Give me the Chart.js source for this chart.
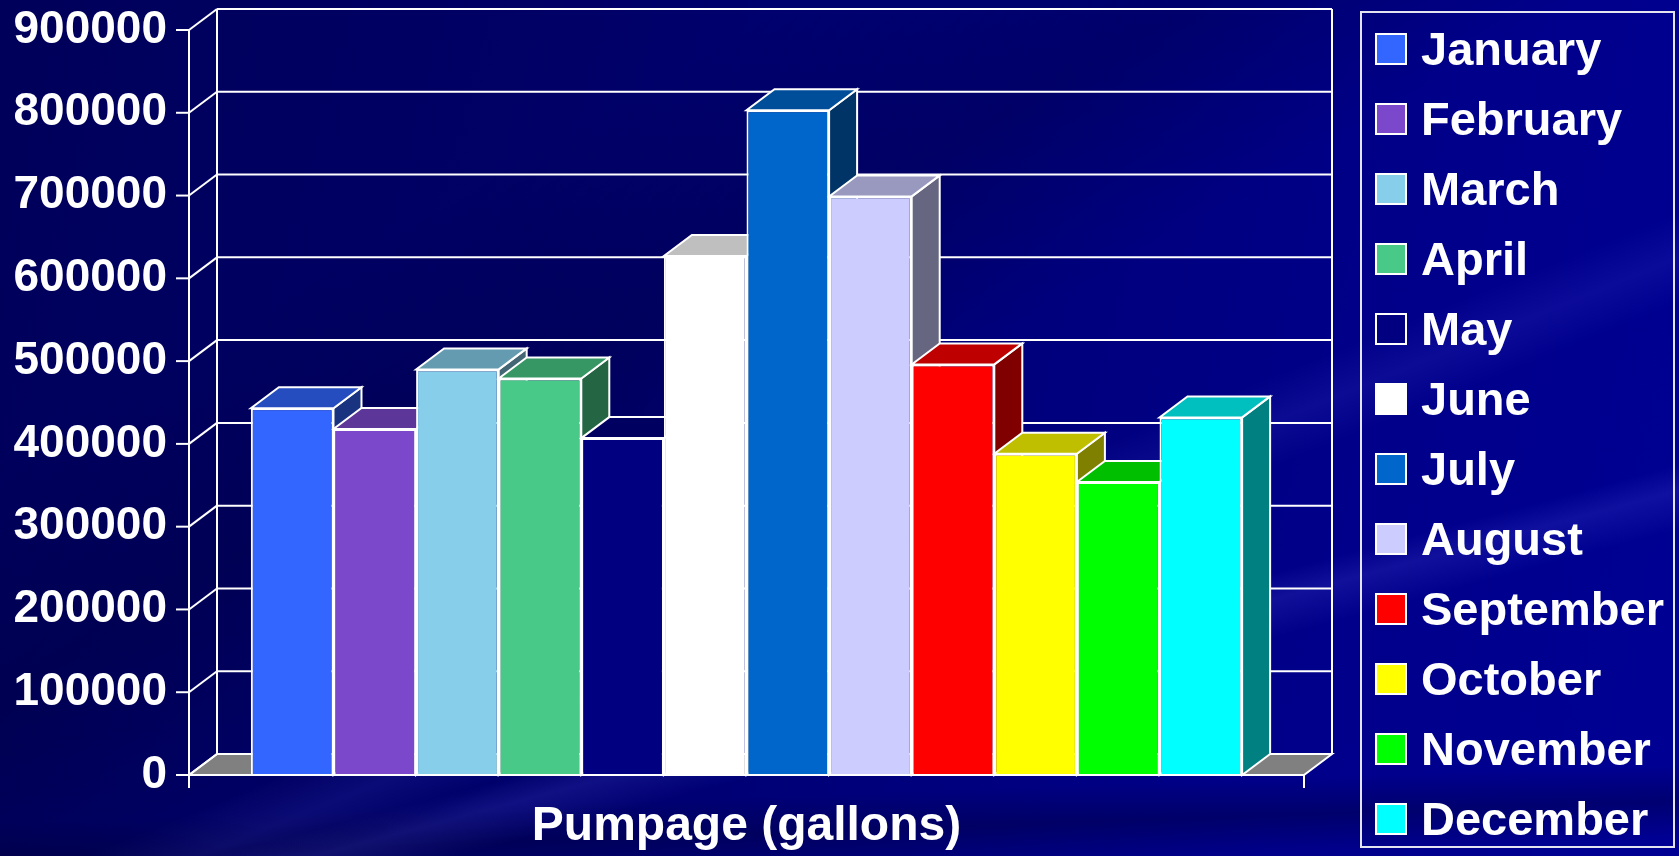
<!DOCTYPE html>
<html>
<head>
<meta charset="utf-8">
<script src="https://cdn.jsdelivr.net/npm/chart.js@4"></script>
<style>
  html, body { margin: 0; padding: 0; }
  body {
    width: 1679px; height: 856px; overflow: hidden; position: relative;
    font-family: "Liberation Sans", Arial, sans-serif;
    background:
      linear-gradient(158deg, transparent 0 58%, rgba(70,70,210,.16) 61%, transparent 64%),
      linear-gradient(165deg, transparent 0 70%, rgba(90,90,230,.18) 72%, transparent 75%),
      linear-gradient(150deg, transparent 0 25%, rgba(0,0,40,.22) 38%, transparent 50%),
      linear-gradient(178deg, transparent 0 90%, rgba(0,0,50,.35) 94%, transparent 98%),
      linear-gradient(105deg, #00005a 0%, #000066 30%, #00007a 55%, #00008a 78%, #000094 100%);
  }
  #chart { position: absolute; left: 0; top: 0; }
  #legend {
    position: absolute; left: 1360px; top: 11px;
    width: 311px; height: 833px; border: 2px solid #e4e4f0;
  }
  .item { position: absolute; left: 13px; height: 32px; display: flex; align-items: center; }
  .sw { width: 28px; height: 28px; border: 2px solid #fff; }
  .lbl { margin-left: 14px; color: #fff; font-weight: bold; font-size: 47px; line-height: 32px; white-space: nowrap; }
</style>
</head>
<body>
<canvas id="chart" width="1679" height="856"></canvas>
<div id="legend"></div>
<script>
// data
var MONTHS = ['January', 'February', 'March', 'April', 'May', 'June',
              'July', 'August', 'September', 'October', 'November', 'December'];
var PUMPAGE = [443000, 418000, 490000, 479000, 407000, 627000,
               803000, 699000, 496000, 388000, 354000, 432000];
var Y_MAX = 900000;
var Y_STEP = 100000;
var X_TITLE = 'Pumpage (gallons)';

// front face colours; top and side faces are darker shades of these
var COLORS = ['#3366ff', '#7b48cc', '#87ceeb', '#48c987', '#000080', '#ffffff',
              '#0066cc', '#ccccff', '#ff0000', '#ffff00', '#00ff00', '#00ffff'];

var DX = 28, DY = 21; // depth of the fake 3d
var FONT = '"Liberation Sans", Arial, sans-serif';

function shade(hex, f) {
  var n = parseInt(hex.slice(1), 16);
  var r = Math.round(((n >> 16) & 255) * f),
      g = Math.round(((n >> 8) & 255) * f),
      b = Math.round((n & 255) * f);
  return 'rgb(' + r + ',' + g + ',' + b + ')';
}

function poly(c, pts, fill) {
  c.beginPath();
  c.moveTo(pts[0][0], pts[0][1]);
  for (var i = 1; i < pts.length; i++) c.lineTo(pts[i][0], pts[i][1]);
  c.closePath();
  if (fill) { c.fillStyle = fill; c.fill(); }
  c.stroke();
}

function line(c, x1, y1, x2, y2) {
  c.beginPath(); c.moveTo(x1, y1); c.lineTo(x2, y2); c.stroke();
}

// walls, floor, and the top/side faces of each bar (fronts are the real bars)
var box3d = {
  id: 'box3d',
  beforeDatasetsDraw: function (chart) {
    var c = chart.ctx, a = chart.chartArea, ys = chart.scales.y;
    var L = a.left, R = a.right, T = a.top, B = a.bottom;
    c.save();
    c.lineWidth = 2; c.strokeStyle = '#fff'; c.lineJoin = 'miter';

    poly(c, [[L, B], [R, B], [R + DX, B - DY], [L + DX, B - DY]], '#808080');

    ys.ticks.forEach(function (t) {
      var py = ys.getPixelForValue(t.value);
      line(c, L, py, L + DX, py - DY);
      line(c, L + DX, py - DY, R + DX, py - DY);
    });
    line(c, L + DX, T - DY, L + DX, B - DY);
    line(c, R + DX, T - DY, R + DX, B - DY);

    chart.data.datasets.forEach(function (ds, i) {
      var bar = chart.getDatasetMeta(i).data[0];
      var p = bar.getProps(['x', 'y', 'base', 'width'], true);
      var x1 = p.x - p.width / 2, x2 = p.x + p.width / 2;
      poly(c, [[x2, p.y], [x2 + DX, p.y - DY], [x2 + DX, p.base - DY], [x2, p.base]], shade(COLORS[i], 0.5));
      poly(c, [[x1, p.y], [x2, p.y], [x2 + DX, p.y - DY], [x1 + DX, p.y - DY]], shade(COLORS[i], 0.75));
    });
    c.restore();
  },
  afterDatasetsDraw: function (chart) {
    var c = chart.ctx, a = chart.chartArea, ys = chart.scales.y;
    var L = a.left, R = a.right, T = a.top, B = a.bottom;
    c.save();
    c.lineWidth = 2; c.strokeStyle = '#fff';
    line(c, L, T, L, B + 13);
    line(c, L, B, R, B);
    line(c, R, B, R, B + 13);
    ys.ticks.forEach(function (t) {
      var py = ys.getPixelForValue(t.value);
      line(c, L - 13, py, L, py);
    });
    c.restore();
  }
};

new Chart(document.getElementById('chart'), {
  type: 'bar',
  data: {
    labels: [''],
    datasets: MONTHS.map(function (m, i) {
      return {
        label: m, data: [PUMPAGE[i]],
        backgroundColor: COLORS[i], borderColor: '#ffffff', borderWidth: 2,
        categoryPercentage: 0.889, barPercentage: 1
      };
    })
  },
  options: {
    responsive: false, animation: false,
    layout: { padding: { top: 30, right: 375, left: 0, bottom: 0 } },
    plugins: { legend: { display: false }, tooltip: { enabled: false } },
    scales: {
      x: {
        grid: { display: false }, border: { display: false },
        ticks: { display: false },
        title: {
          display: true, text: X_TITLE, color: '#fff', padding: 0,
          font: { family: FONT, size: 48, weight: 'bold', lineHeight: 1.2 }
        },
        afterFit: function (s) { s.height = 81; }
      },
      y: {
        min: 0, max: Y_MAX,
        // tick marks are drawn by the plugin; tickLength only spaces the labels
        grid: { display: false, drawTicks: true, tickLength: 22 }, border: { display: false },
        ticks: {
          stepSize: Y_STEP, color: '#fff', padding: 0,
          font: { family: FONT, size: 46, weight: 'bold' },
          callback: function (v) { return String(v); }
        },
        afterFit: function (s) { s.width = 189; }
      }
    }
  },
  plugins: [box3d]
});

// legend as plain html, one row per month
var legend = document.getElementById('legend');
MONTHS.forEach(function (m, i) {
  var row = document.createElement('div');
  row.className = 'item';
  row.style.top = (20 + 70 * i) + 'px';
  row.innerHTML = '<div class="sw" style="background:' + COLORS[i] + '"></div><div class="lbl">' + m + '</div>';
  legend.appendChild(row);
});
</script>
</body>
</html>
